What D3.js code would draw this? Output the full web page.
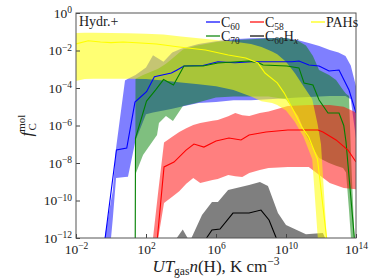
<!DOCTYPE html>
<html>
<head>
<meta charset="utf-8">
<script src="https://cdn.jsdelivr.net/npm/d3@7"></script>
<style>
  body { margin: 0; background: #fff; }
  text { font-family: "Liberation Serif", "DejaVu Serif", serif; fill: #222; }
</style>
</head>
<body>
<svg id="chart" width="374" height="280"></svg>
<script>
// all values are log10 ; -30 means zero (clipped off the bottom)

// C60 (blue)
const c60LineX = [-0.5, 0.31, 0.9, 1.37, 2.03, 2.48, 3.45, 3.75, 4.17, 5.26, 6.11, 7.09, 8.06, 9.37, 10.34, 10.74, 11.31, 11.89, 12.46, 13.03, 13.6, 14];
const c60Line  = [-13.2, -7.3, -7.2, -4.75, -4.2, -3.4, -3.2, -3.05, -2.83, -2.8, -2.6, -2.65, -2.6, -2.6, -2.6, -2.56, -2.77, -2.83, -3.09, -3.04, -4.11, -5.33];
const c60BandX = [-0.4, 0.0, 0.1, 0.29, 0.8, 0.97, 1.4, 2.0, 2.4, 3.0, 3.5, 4.0, 5.0, 6.0, 7.0, 8.0, 9.0, 10.0, 10.7, 11.3, 11.9, 12.5, 13.0, 13.4, 13.7, 14.0];
const c60Hi    = [-12.2, -10.0, -9.5, -7.2, -3.6, -3.5, -3.3, -2.9, -2.25, -2.6, -2.1, -1.9, -1.65, -1.5, -1.4, -1.35, -1.33, -1.33, -1.45, -1.6, -1.76, -1.97, -2.1, -2.29, -2.8, -3.9];
const c60Lo    = [-14, -12.0, -11.0, -8.8, -8.75, -8.73, -6.8, -5.4, -5.3, -5.2, -5.1, -5.0, -4.8, -4.75, -4.65, -4.65, -4.6, -4.55, -4.5, -4.48, -4.45, -4.43, -4.43, -4.43, -4.6, -6.7];

// C70 (green)
const c70LineX = [1.33, 1.4, 2.03, 2.54, 3.0, 3.57, 4.17, 5.26, 6.11, 7.89, 8.46, 8.69, 10.05, 10.74, 11.03, 11.54, 11.89, 12.4, 13.03, 13.3, 13.43, 14];
const c70Line  = [-30, -6.67, -4.7, -4.11, -3.55, -3.84, -2.83, -2.83, -2.67, -2.56, -2.67, -2.77, -2.83, -2.93, -3.73, -3.84, -4.64, -5.33, -5.33, -6.0, -6.88, -13];
const c70BandX = [1.33, 1.4, 1.83, 2.11, 2.63, 2.74, 3.14, 3.54, 4.11, 4.86, 6, 7, 8, 9, 10, 10.7, 11.14, 11.54, 11.89, 12.46, 12.86, 13.26, 13.43, 13.6, 13.71, 14];
const c70Lo    = [-30, -8.6, -7.57, -7.2, -6.5, -5.87, -5.49, -5.76, -4.96, -4.8, -4.5, -4.45, -4.45, -4.45, -4.6, -5.5, -6.5, -7.2, -7.73, -8.0, -8.15, -8.27, -8.5, -10.5, -12, -16];
const c70Hi    = [-30, -3.5, -3.3, -3.2, -3.0, -2.95, -2.7, -2.4, -1.95, -1.75, -1.55, -1.45, -1.4, -1.35, -1.33, -1.49, -1.73, -2.29, -3.04, -3.31, -3.57, -4.1, -4.3, -4.43, -7.5, -14];

// C58 (red)
const c58LineX = [2.5, 3.03, 3.6, 4.29, 4.74, 5.31, 6.0, 6.74, 7.43, 7.89, 8.86, 10.11, 10.74, 11.83, 12.11, 12.86, 13.54, 14];
const c58Line  = [-13.5, -8.21, -7.95, -7.31, -6.99, -7.15, -6.83, -6.67, -6.77, -6.51, -6.35, -6.24, -6.24, -6.24, -6.35, -6.77, -7.31, -7.95];
const c58BandX = [2.4, 2.7, 3.03, 3.5, 3.9, 4.3, 4.7, 5.1, 5.8, 6.1, 6.7, 7.1, 7.5, 7.9, 8.5, 9.0, 9.3, 10.1, 11.3, 12.5, 13.3, 14];
const c58Hi    = [-12, -9.5, -6.9, -6.6, -6.35, -6.15, -5.97, -5.87, -5.75, -5.71, -5.5, -5.33, -5.45, -5.49, -5.33, -5.25, -5.17, -4.96, -4.9, -4.9, -5.0, -5.3];
const c58Lo    = [-14, -12, -10.13, -9.8, -9.5, -9.1, -8.8, -9.07, -8.91, -8.85, -8.64, -8.7, -8.75, -8.53, -8.37, -8.27, -8.25, -8.21, -8.21, -9.07, -9.33, -9.4];

// C60Hx (black)
const hxLineX = [5.1, 5.77, 6.23, 6.97, 7.89, 8.57, 9.03, 9.7];
const hxLine  = [-12.5, -11.57, -11.52, -10.67, -10.67, -10.51, -11.04, -12.6];
const hxBandX = [3.3, 4.1, 4.5, 5.2, 5.77, 6.11, 6.69, 7.89, 8.51, 8.97, 9.54, 10.0, 11.14, 12.11, 12.5];
const hxHi    = [-12.6, -11.55, -12.2, -10.77, -10.08, -10.08, -9.44, -9.17, -9.01, -9.23, -10.67, -11.31, -11.8, -11.73, -12.6];
const hxLo    = [-14, -14, -14, -14, -14, -14, -14, -14, -14, -14, -14, -14, -14, -14, -14];

// PAHs (yellow)
const pahLineX = [-2, -1.3, -0.6, 0, 0.7, 1.7, 2.6, 3.9, 5.4, 6.7, 7.7, 8.4, 8.8, 9.5, 9.9, 10.5, 10.9, 11.3, 11.8, 12.3, 12.6];
const pahLine  = [-1.65, -1.48, -1.55, -1.58, -1.55, -1.6, -1.65, -1.81, -1.97, -2.24, -2.4, -2.67, -3.2, -3.73, -4.27, -5.33, -6.08, -6.61, -7.8, -11.84, -14];
const pahBandX = [-2, -1.5, -1, 0, 1, 2, 3, 4, 5, 6, 7, 8, 8.6, 9.2, 9.5, 10, 10.5, 11, 11.5, 11.8, 12.0, 12.35, 12.6];
const pahHi    = [-1.07, -1.05, -1.05, -1.07, -1.08, -1.1, -1.15, -1.25, -1.35, -1.44, -1.52, -1.65, -1.81, -2.05, -2.2, -2.6, -3.2, -3.9, -4.6, -5.9, -7.0, -12.3, -14];
const pahLo    = [-3.63, -3.52, -3.5, -3.5, -3.5, -3.52, -3.6, -3.7, -3.8, -3.9, -4.1, -4.45, -4.7, -4.8, -4.9, -5.2, -5.8, -6.6, -7.8, -11.8, -14, -14, -14];

const xTicks = [-2, 2, 6, 10, 14];
const yTicks = [0, -2, -4, -6, -8, -10, -12];

// series: band drawn first, in this order, then lines
const series = [
  { name: "C60",  color: "blue",    bandX: c60BandX, lo: c60Lo, hi: c60Hi, lineX: c60LineX, line: c60Line, op: 0.5 },
  { name: "C70",  color: "green",   bandX: c70BandX, lo: c70Lo, hi: c70Hi, lineX: c70LineX, line: c70Line, op: 0.5 },
  { name: "C58",  color: "red",     bandX: c58BandX, lo: c58Lo, hi: c58Hi, lineX: c58LineX, line: c58Line, op: 0.5 },
  { name: "C60Hx", color: "black",  bandX: hxBandX,  lo: hxLo,  hi: hxHi,  lineX: hxLineX,  line: hxLine,  op: 0.5 },
  { name: "PAHs", color: "#ffff00", bandX: pahBandX, lo: pahLo, hi: pahHi, lineX: pahLineX, line: pahLine, op: 0.55 }
];

const margin = { top: 13, right: 18, bottom: 42, left: 76 },
      width  = 374 - margin.left - margin.right,
      height = 280 - margin.top - margin.bottom;

const svg = d3.select("#chart");
const g = svg.append("g").attr("transform", `translate(${margin.left},${margin.top})`);

const x = d3.scaleLog().domain([1e-2, 1e14]).range([0, width]);
const y = d3.scaleLog().domain([1e-12, 1]).range([height, 0]);
const p = v => Math.pow(10, v);

g.append("clipPath").attr("id", "clip")
  .append("rect").attr("width", width).attr("height", height);

const plot = g.append("g").attr("clip-path", "url(#clip)");

// bands
series.forEach(s => {
  const pts = s.bandX.map((v, i) => ({ x: v, lo: s.lo[i], hi: s.hi[i] }));
  const area = d3.area()
    .x(d => x(p(d.x)))
    .y0(d => y(p(d.lo)))
    .y1(d => y(p(d.hi)));
  plot.append("path")
    .datum(pts)
    .attr("d", area)
    .attr("fill", s.color)
    .attr("fill-opacity", s.op)
    .attr("stroke", "none");
});

// lines
series.forEach(s => {
  const pts = s.lineX.map((v, i) => ({ x: v, y: s.line[i] }));
  const line = d3.line().x(d => x(p(d.x))).y(d => y(p(d.y)));
  plot.append("path")
    .datum(pts)
    .attr("d", line)
    .attr("fill", "none")
    .attr("stroke", s.color)
    .attr("stroke-width", 1.1);
});

// axes
function expLabel(sel) {
  sel.each(function(d) {
    const e = Math.round(Math.log10(d));
    const t = d3.select(this).text(null);
    t.append("tspan").text("10");
    t.append("tspan").attr("dy", "-0.5em").style("font-size", "9.5px")
      .text(e < 0 ? "\u2212" + (-e) : e);
  });
}

const xAxis = g.append("g")
  .attr("transform", `translate(0,${height})`)
  .call(d3.axisBottom(x).tickValues(xTicks.map(p)).tickSize(-4).tickSizeOuter(0).tickPadding(6));
const yAxis = g.append("g")
  .call(d3.axisLeft(y).tickValues(yTicks.map(p)).tickSize(-4).tickSizeOuter(0).tickPadding(4));

[xAxis, yAxis].forEach(a => {
  a.select(".domain").remove();
  a.selectAll(".tick line").attr("stroke", "#444");
  a.selectAll(".tick text").attr("fill", "#222")
    .style("font-size", "13.5px")
    .style("font-family", "'Liberation Serif', serif")
    .call(expLabel);
});

// frame
g.append("rect").attr("width", width).attr("height", height)
  .attr("fill", "none").attr("stroke", "#555").attr("stroke-width", 1);

// panel tag
g.append("text").attr("x", 3).attr("y", 13).style("font-size", "14px").text("Hydr.+");

// legend
const legendItems = [
  { s: series[0], sub: "60", extra: null, lx: 206 - margin.left, ly: 22 - margin.top },
  { s: series[2], sub: "58", extra: null, lx: 250 - margin.left, ly: 22 - margin.top },
  { s: series[4], sub: null, extra: null, lx: 311 - margin.left, ly: 22 - margin.top },
  { s: series[1], sub: "70", extra: null, lx: 206 - margin.left, ly: 36 - margin.top },
  { s: series[3], sub: "60", extra: "H", lx: 250 - margin.left, ly: 36 - margin.top }
];
const leg = g.append("g");
legendItems.forEach(it => {
  leg.append("line")
    .attr("x1", it.lx).attr("x2", it.lx + 14)
    .attr("y1", it.ly).attr("y2", it.ly)
    .attr("stroke", it.s.color).attr("stroke-width", 1.2);
  const t = leg.append("text").attr("x", it.lx + 15).attr("y", it.ly + 5)
    .style("font-size", "14px");
  if (it.sub === null) {
    t.text(it.s.name);
  } else {
    t.append("tspan").text("C");
    t.append("tspan").attr("dy", 3).style("font-size", "9.5px").text(it.sub);
    if (it.extra) {
      t.append("tspan").attr("dy", -3).text(it.extra);
      t.append("tspan").attr("dy", 3).style("font-size", "9.5px").style("font-style", "italic").text("x");
    }
  }
});

// axis labels
const xl = svg.append("text")
  .attr("x", margin.left + width / 2).attr("y", 272)
  .attr("text-anchor", "middle").style("font-size", "17px");
xl.append("tspan").style("font-style", "italic").text("UT");
xl.append("tspan").attr("dy", 3).style("font-size", "11.5px").text("gas");
xl.append("tspan").attr("dy", -3).style("font-style", "italic").text("n");
xl.append("tspan").text("(H), K cm");
xl.append("tspan").attr("dy", -7).style("font-size", "11.5px").text("\u22123");

const yl = svg.append("text")
  .attr("transform", `translate(32,${margin.top + height / 2}) rotate(-90)`)
  .attr("text-anchor", "middle").style("font-size", "17px");
yl.append("tspan").style("font-style", "italic").text("f");
yl.append("tspan").attr("dy", -7).style("font-size", "11px").text("mol");
yl.append("tspan").attr("dx", -16).attr("dy", 11).style("font-size", "11px").text("C");
</script>
</body>
</html>
